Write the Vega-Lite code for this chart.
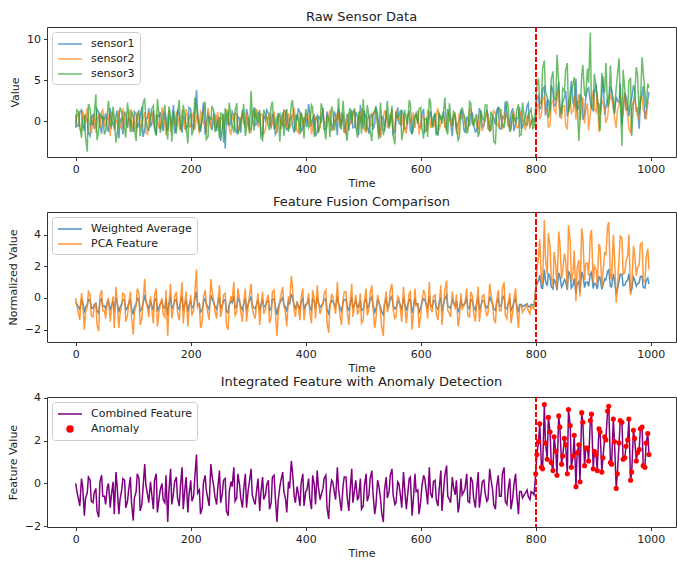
{
"$schema": "https://vega.github.io/schema/vega-lite/v6.json",
"background": "white",
"padding": {"left": 6, "top": 10, "right": 0, "bottom": 0},
"datasets": {"ts": [
{"t":0,"s1":0.8,"s2":-0.3,"s3":-0.8,"wa":-0.23,"pca":0,"cf":0,"an":0},
{"t":5,"s1":-0.5,"s2":1.0,"s3":1.2,"wa":-0.58,"pca":-1.0,"cf":-0.75,"an":0},
{"t":10,"s1":1.4,"s2":-1.1,"s3":-2.0,"wa":-0.12,"pca":0.3,"cf":0.23,"an":0},
{"t":15,"s1":-1.2,"s2":0.5,"s3":0.6,"wa":-0.93,"pca":-2.0,"cf":-1.5,"an":0},
{"t":20,"s1":0.3,"s2":1.6,"s3":-3.7,"wa":-0.44,"pca":-0.6,"cf":-0.45,"an":0},
{"t":25,"s1":-1.8,"s2":-0.7,"s3":1.5,"wa":-0.16,"pca":0.2,"cf":0.15,"an":0},
{"t":30,"s1":0.9,"s2":0.2,"s3":-0.3,"wa":-0.65,"pca":-1.2,"cf":-0.9,"an":0},
{"t":35,"s1":-0.2,"s2":-1.4,"s3":3.3,"wa":-0.34,"pca":-0.3,"cf":-0.23,"an":0},
{"t":40,"s1":1.1,"s2":0.8,"s3":-1.1,"wa":-0.97,"pca":-2.1,"cf":-1.58,"an":0},
{"t":45,"s1":-1.5,"s2":1.2,"s3":0.4,"wa":-0.06,"pca":0.5,"cf":0.38,"an":0},
{"t":50,"s1":0.2,"s2":-0.5,"s3":-1.6,"wa":-0.51,"pca":-0.8,"cf":-0.6,"an":0},
{"t":55,"s1":-0.9,"s2":0.3,"s3":0.9,"wa":-0.3,"pca":-0.2,"cf":-0.15,"an":0},
{"t":60,"s1":1.6,"s2":-1.8,"s3":-0.4,"wa":-0.76,"pca":-1.5,"cf":-1.13,"an":0},
{"t":65,"s1":-0.4,"s2":0.9,"s3":1.8,"wa":-0.2,"pca":0.1,"cf":0.08,"an":0},
{"t":70,"s1":0.7,"s2":-0.2,"s3":-2.6,"wa":0.02,"pca":0.7,"cf":0.53,"an":0},
{"t":75,"s1":-2.1,"s2":1.3,"s3":0.2,"wa":-0.9,"pca":-1.9,"cf":-1.43,"an":0},
{"t":80,"s1":0.5,"s2":-0.9,"s3":1.1,"wa":-0.37,"pca":-0.4,"cf":-0.3,"an":0},
{"t":85,"s1":1.2,"s2":0.4,"s3":-0.9,"wa":-0.16,"pca":0.2,"cf":0.15,"an":0},
{"t":90,"s1":-0.8,"s2":-0.6,"s3":2.3,"wa":-0.62,"pca":-1.1,"cf":-0.83,"an":0},
{"t":95,"s1":0.1,"s2":1.5,"s3":-1.3,"wa":-0.09,"pca":0.4,"cf":0.3,"an":0},
{"t":100,"s1":-1.3,"s2":0.1,"s3":0.5,"wa":-1.04,"pca":-2.3,"cf":-1.73,"an":0},
{"t":105,"s1":0.9,"s2":-1.2,"s3":-2.4,"wa":-0.41,"pca":-0.5,"cf":-0.38,"an":0},
{"t":110,"s1":-0.3,"s2":0.7,"s3":1.4,"wa":-0.12,"pca":0.3,"cf":0.23,"an":0},
{"t":115,"s1":1.8,"s2":-0.4,"s3":-0.6,"wa":-0.69,"pca":-1.3,"cf":-0.98,"an":0},
{"t":120,"s1":-1.0,"s2":1.1,"s3":2.8,"wa":0.19,"pca":1.2,"cf":0.9,"an":0},
{"t":125,"s1":0.4,"s2":-1.6,"s3":-1.0,"wa":-0.48,"pca":-0.7,"cf":-0.53,"an":0},
{"t":130,"s1":-0.6,"s2":0.6,"s3":0.3,"wa":-0.2,"pca":0.1,"cf":0.08,"an":0},
{"t":135,"s1":1.3,"s2":-0.1,"s3":1.9,"wa":-0.79,"pca":-1.6,"cf":-1.2,"an":0},
{"t":140,"s1":-1.7,"s2":0.9,"s3":-1.7,"wa":-0.02,"pca":0.6,"cf":0.45,"an":0},
{"t":145,"s1":0.6,"s2":-0.8,"s3":0.7,"wa":-0.55,"pca":-0.9,"cf":-0.68,"an":0},
{"t":150,"s1":-0.2,"s2":1.7,"s3":-0.2,"wa":-0.23,"pca":0,"cf":0,"an":0},
{"t":155,"s1":1.0,"s2":-0.3,"s3":2.0,"wa":-0.65,"pca":-1.2,"cf":-0.9,"an":0},
{"t":160,"s1":-1.1,"s2":0.5,"s3":-2.2,"wa":-1.07,"pca":-2.4,"cf":-1.8,"an":0},
{"t":165,"s1":0.3,"s2":-1.3,"s3":0.8,"wa":0.09,"pca":0.9,"cf":0.68,"an":0},
{"t":170,"s1":2.0,"s2":0.2,"s3":1.3,"wa":-0.44,"pca":-0.6,"cf":-0.45,"an":0},
{"t":175,"s1":-0.7,"s2":1.0,"s3":-1.5,"wa":-0.09,"pca":0.4,"cf":0.3,"an":0},
{"t":180,"s1":0.8,"s2":-0.6,"s3":2.6,"wa":-0.72,"pca":-1.4,"cf":-1.05,"an":0},
{"t":185,"s1":-1.4,"s2":1.4,"s3":-0.4,"wa":0.12,"pca":1.0,"cf":0.75,"an":0},
{"t":190,"s1":0.2,"s2":-1.0,"s3":0.6,"wa":-0.34,"pca":-0.3,"cf":-0.23,"an":0},
{"t":195,"s1":-0.5,"s2":0.3,"s3":-2.7,"wa":-0.86,"pca":-1.8,"cf":-1.35,"an":0},
{"t":200,"s1":1.5,"s2":-0.7,"s3":1.0,"wa":-0.16,"pca":0.2,"cf":0.15,"an":0},
{"t":205,"s1":-0.9,"s2":1.2,"s3":-0.8,"wa":-0.51,"pca":-0.8,"cf":-0.6,"an":0},
{"t":210,"s1":3.8,"s2":0.4,"s3":1.7,"wa":0.4,"pca":1.8,"cf":1.35,"an":0},
{"t":215,"s1":-0.3,"s2":-1.5,"s3":-1.2,"wa":-0.37,"pca":-0.4,"cf":-0.3,"an":0},
{"t":220,"s1":0.6,"s2":0.8,"s3":0.4,"wa":-0.76,"pca":-1.5,"cf":-1.13,"an":0},
{"t":225,"s1":-1.6,"s2":-0.2,"s3":2.4,"wa":-0.06,"pca":0.5,"cf":0.38,"an":0},
{"t":230,"s1":1.1,"s2":1.6,"s3":-1.9,"wa":-0.58,"pca":-1.0,"cf":-0.75,"an":0},
{"t":235,"s1":-0.4,"s2":-0.9,"s3":0.1,"wa":0.19,"pca":1.2,"cf":0.9,"an":0},
{"t":240,"s1":0.9,"s2":0.1,"s3":1.2,"wa":-0.3,"pca":-0.2,"cf":-0.15,"an":0},
{"t":245,"s1":-1.2,"s2":0.7,"s3":-0.7,"wa":-0.69,"pca":-1.3,"cf":-0.98,"an":0},
{"t":250,"s1":0.4,"s2":-1.1,"s3":-2.1,"wa":0.05,"pca":0.8,"cf":0.6,"an":0},
{"t":255,"s1":-0.8,"s2":0.5,"s3":0.9,"wa":-0.44,"pca":-0.6,"cf":-0.45,"an":0},
{"t":260,"s1":-3.3,"s2":-0.4,"s3":1.6,"wa":-0.12,"pca":0.3,"cf":0.23,"an":0},
{"t":265,"s1":1.2,"s2":1.3,"s3":-0.5,"wa":-0.93,"pca":-2.0,"cf":-1.5,"an":0},
{"t":270,"s1":-0.1,"s2":-1.7,"s3":0.3,"wa":-0.2,"pca":0.1,"cf":0.08,"an":0},
{"t":275,"s1":0.7,"s2":0.2,"s3":-1.4,"wa":0.12,"pca":1.0,"cf":0.75,"an":0},
{"t":280,"s1":-1.5,"s2":0.9,"s3":2.2,"wa":-0.55,"pca":-0.9,"cf":-0.68,"an":0},
{"t":285,"s1":0.3,"s2":-0.5,"s3":-0.9,"wa":-0.27,"pca":-0.1,"cf":-0.08,"an":0},
{"t":290,"s1":1.4,"s2":1.1,"s3":0.7,"wa":-0.76,"pca":-1.5,"cf":-1.13,"an":0},
{"t":295,"s1":-0.6,"s2":-0.8,"s3":-1.8,"wa":-0.02,"pca":0.6,"cf":0.45,"an":0},
{"t":300,"s1":0.5,"s2":0.4,"s3":0.5,"wa":-0.37,"pca":-0.4,"cf":-0.3,"an":0},
{"t":305,"s1":-1.0,"s2":-1.3,"s3":3.7,"wa":0.09,"pca":0.9,"cf":0.68,"an":0},
{"t":310,"s1":1.7,"s2":0.6,"s3":-1.1,"wa":-0.62,"pca":-1.1,"cf":-0.83,"an":0},
{"t":315,"s1":-0.3,"s2":1.5,"s3":0.2,"wa":-0.34,"pca":-0.3,"cf":-0.23,"an":0},
{"t":320,"s1":0.8,"s2":-0.2,"s3":1.4,"wa":-0.83,"pca":-1.7,"cf":-1.28,"an":0},
{"t":325,"s1":-1.9,"s2":0.8,"s3":-2.3,"wa":-0.09,"pca":0.4,"cf":0.3,"an":0},
{"t":330,"s1":0.2,"s2":-1.0,"s3":0.8,"wa":-0.48,"pca":-0.7,"cf":-0.53,"an":0},
{"t":335,"s1":1.0,"s2":0.3,"s3":-0.6,"wa":-0.16,"pca":0.2,"cf":0.15,"an":0},
{"t":340,"s1":-0.7,"s2":-0.6,"s3":1.9,"wa":-0.65,"pca":-1.2,"cf":-0.9,"an":0},
{"t":345,"s1":0.4,"s2":1.2,"s3":-1.0,"wa":-0.06,"pca":0.5,"cf":0.38,"an":0},
{"t":350,"s1":-1.2,"s2":-1.4,"s3":0.4,"wa":-1.07,"pca":-2.4,"cf":-1.8,"an":0},
{"t":355,"s1":0.9,"s2":0.5,"s3":-2.5,"wa":-0.3,"pca":-0.2,"cf":-0.15,"an":0},
{"t":360,"s1":-0.5,"s2":0.1,"s3":1.1,"wa":0.02,"pca":0.7,"cf":0.53,"an":0},
{"t":365,"s1":1.3,"s2":-0.9,"s3":0.6,"wa":-0.58,"pca":-1.0,"cf":-0.75,"an":0},
{"t":370,"s1":-0.9,"s2":1.0,"s3":-1.3,"wa":-0.2,"pca":0.1,"cf":0.08,"an":0},
{"t":375,"s1":0.6,"s2":-0.3,"s3":2.1,"wa":0.26,"pca":1.4,"cf":1.05,"an":0},
{"t":380,"s1":-1.4,"s2":1.7,"s3":-0.3,"wa":-0.51,"pca":-0.8,"cf":-0.6,"an":0},
{"t":385,"s1":0.1,"s2":-1.2,"s3":0.9,"wa":-0.3,"pca":-0.2,"cf":-0.15,"an":0},
{"t":390,"s1":1.1,"s2":0.4,"s3":-1.6,"wa":-0.72,"pca":-1.4,"cf":-1.05,"an":0},
{"t":395,"s1":-0.8,"s2":-0.5,"s3":0.2,"wa":-0.02,"pca":0.6,"cf":0.45,"an":0},
{"t":400,"s1":0.3,"s2":0.9,"s3":1.5,"wa":-0.41,"pca":-0.5,"cf":-0.38,"an":0},
{"t":405,"s1":2.1,"s2":-0.1,"s3":-0.8,"wa":-0.12,"pca":0.3,"cf":0.23,"an":0},
{"t":410,"s1":-0.6,"s2":-1.6,"s3":2.0,"wa":-0.79,"pca":-1.6,"cf":-1.2,"an":0},
{"t":415,"s1":0.7,"s2":0.7,"s3":-1.9,"wa":-0.27,"pca":-0.1,"cf":-0.08,"an":0},
{"t":420,"s1":-1.3,"s2":0.2,"s3":0.7,"wa":0.05,"pca":0.8,"cf":0.6,"an":0},
{"t":425,"s1":0.4,"s2":-0.8,"s3":-0.4,"wa":-0.58,"pca":-1.0,"cf":-0.75,"an":0},
{"t":430,"s1":1.6,"s2":1.3,"s3":1.2,"wa":-0.34,"pca":-0.3,"cf":-0.23,"an":0},
{"t":435,"s1":-1.0,"s2":-0.4,"s3":-2.2,"wa":-0.06,"pca":0.5,"cf":0.38,"an":0},
{"t":440,"s1":0.2,"s2":0.6,"s3":0.5,"wa":-1.0,"pca":-2.2,"cf":-1.65,"an":0},
{"t":445,"s1":-0.4,"s2":-1.1,"s3":1.8,"wa":-0.16,"pca":0.2,"cf":0.15,"an":0},
{"t":450,"s1":1.2,"s2":0.3,"s3":-1.1,"wa":-0.44,"pca":-0.6,"cf":-0.45,"an":0},
{"t":455,"s1":-1.7,"s2":1.1,"s3":0.3,"wa":0.12,"pca":1.0,"cf":0.75,"an":0},
{"t":460,"s1":0.5,"s2":-0.7,"s3":-0.7,"wa":-0.65,"pca":-1.2,"cf":-0.9,"an":0},
{"t":465,"s1":0.9,"s2":0.5,"s3":2.5,"wa":-0.27,"pca":-0.1,"cf":-0.08,"an":0},
{"t":470,"s1":-0.2,"s2":-1.5,"s3":-1.4,"wa":-0.09,"pca":0.4,"cf":0.3,"an":0},
{"t":475,"s1":-1.1,"s2":0.9,"s3":0.9,"wa":-0.83,"pca":-1.7,"cf":-1.28,"an":0},
{"t":480,"s1":1.4,"s2":-0.2,"s3":-0.2,"wa":0.09,"pca":0.9,"cf":0.68,"an":0},
{"t":485,"s1":-0.7,"s2":1.4,"s3":1.6,"wa":-0.37,"pca":-0.4,"cf":-0.3,"an":0},
{"t":490,"s1":0.6,"s2":-0.9,"s3":-2.0,"wa":-0.58,"pca":-1.0,"cf":-0.75,"an":0},
{"t":495,"s1":2.0,"s2":0.1,"s3":0.4,"wa":-0.12,"pca":0.3,"cf":0.23,"an":0},
{"t":500,"s1":-0.9,"s2":0.6,"s3":2.7,"wa":-0.72,"pca":-1.4,"cf":-1.05,"an":0},
{"t":505,"s1":0.3,"s2":-1.3,"s3":-1.2,"wa":-0.02,"pca":0.6,"cf":0.45,"an":0},
{"t":510,"s1":-1.5,"s2":0.8,"s3":0.6,"wa":-0.48,"pca":-0.7,"cf":-0.53,"an":0},
{"t":515,"s1":1.0,"s2":-0.5,"s3":-2.4,"wa":0.05,"pca":0.8,"cf":0.6,"an":0},
{"t":520,"s1":-0.3,"s2":1.2,"s3":1.3,"wa":-0.9,"pca":-1.9,"cf":-1.43,"an":0},
{"t":525,"s1":0.8,"s2":-0.1,"s3":-0.5,"wa":-0.16,"pca":0.2,"cf":0.15,"an":0},
{"t":530,"s1":-2.0,"s2":-1.8,"s3":2.3,"wa":-0.55,"pca":-0.9,"cf":-0.68,"an":0},
{"t":535,"s1":0.4,"s2":0.4,"s3":-1.7,"wa":-1.07,"pca":-2.4,"cf":-1.8,"an":0},
{"t":540,"s1":1.3,"s2":0.9,"s3":0.8,"wa":-0.09,"pca":0.4,"cf":0.3,"an":0},
{"t":545,"s1":-0.6,"s2":-0.6,"s3":-0.9,"wa":-0.41,"pca":-0.5,"cf":-0.38,"an":0},
{"t":550,"s1":0.1,"s2":1.5,"s3":1.9,"wa":0.09,"pca":0.9,"cf":0.68,"an":0},
{"t":555,"s1":-1.2,"s2":-1.0,"s3":-2.8,"wa":-0.69,"pca":-1.3,"cf":-0.98,"an":0},
{"t":560,"s1":1.7,"s2":0.2,"s3":0.5,"wa":-0.2,"pca":0.1,"cf":0.08,"an":0},
{"t":565,"s1":-0.4,"s2":-0.3,"s3":1.4,"wa":-0.51,"pca":-0.8,"cf":-0.6,"an":0},
{"t":570,"s1":0.7,"s2":1.0,"s3":-1.0,"wa":0.02,"pca":0.7,"cf":0.53,"an":0},
{"t":575,"s1":-0.9,"s2":-1.4,"s3":0.2,"wa":-0.79,"pca":-1.6,"cf":-1.2,"an":0},
{"t":580,"s1":1.1,"s2":0.7,"s3":2.6,"wa":-0.12,"pca":0.3,"cf":0.23,"an":0},
{"t":585,"s1":-1.6,"s2":0.3,"s3":-1.5,"wa":-0.93,"pca":-2.0,"cf":-1.5,"an":0},
{"t":590,"s1":0.5,"s2":-0.8,"s3":0.7,"wa":-0.02,"pca":0.6,"cf":0.45,"an":0},
{"t":595,"s1":0.2,"s2":1.3,"s3":-0.3,"wa":-0.37,"pca":-0.4,"cf":-0.3,"an":0},
{"t":600,"s1":-0.8,"s2":-0.4,"s3":1.7,"wa":-0.62,"pca":-1.1,"cf":-0.83,"an":0},
{"t":605,"s1":1.5,"s2":0.6,"s3":-2.1,"wa":-0.06,"pca":0.5,"cf":0.38,"an":0},
{"t":610,"s1":-1.1,"s2":-1.2,"s3":0.4,"wa":-0.44,"pca":-0.6,"cf":-0.45,"an":0},
{"t":615,"s1":0.6,"s2":0.9,"s3":2.8,"wa":0.12,"pca":1.0,"cf":0.75,"an":0},
{"t":620,"s1":-0.3,"s2":0.1,"s3":-0.8,"wa":-0.55,"pca":-0.9,"cf":-0.68,"an":0},
{"t":625,"s1":0.9,"s2":-0.7,"s3":1.0,"wa":-0.16,"pca":0.2,"cf":0.15,"an":0},
{"t":630,"s1":-1.4,"s2":1.6,"s3":-1.8,"wa":-0.72,"pca":-1.4,"cf":-1.05,"an":0},
{"t":635,"s1":0.3,"s2":-0.2,"s3":0.6,"wa":0.05,"pca":0.8,"cf":0.6,"an":0},
{"t":640,"s1":1.2,"s2":0.5,"s3":1.5,"wa":-0.34,"pca":-0.3,"cf":-0.23,"an":0},
{"t":645,"s1":-0.7,"s2":-1.1,"s3":-1.2,"wa":0.16,"pca":1.1,"cf":0.83,"an":0},
{"t":650,"s1":0.4,"s2":0.8,"s3":2.2,"wa":-0.58,"pca":-1.0,"cf":-0.75,"an":0},
{"t":655,"s1":-1.8,"s2":-0.5,"s3":-0.6,"wa":-0.09,"pca":0.4,"cf":0.3,"an":0},
{"t":660,"s1":0.8,"s2":1.1,"s3":0.3,"wa":-0.48,"pca":-0.7,"cf":-0.53,"an":0},
{"t":665,"s1":-0.2,"s2":-1.5,"s3":-2.3,"wa":-0.86,"pca":-1.8,"cf":-1.35,"an":0},
{"t":670,"s1":1.3,"s2":0.3,"s3":1.1,"wa":-0.12,"pca":0.3,"cf":0.23,"an":0},
{"t":675,"s1":-1.0,"s2":0.7,"s3":0.8,"wa":-0.41,"pca":-0.5,"cf":-0.38,"an":0},
{"t":680,"s1":0.5,"s2":-0.9,"s3":-1.4,"wa":-0.02,"pca":0.6,"cf":0.45,"an":0},
{"t":685,"s1":-0.6,"s2":1.4,"s3":2.4,"wa":-0.65,"pca":-1.2,"cf":-0.9,"an":0},
{"t":690,"s1":1.0,"s2":-0.3,"s3":-0.4,"wa":-0.2,"pca":0.1,"cf":0.08,"an":0},
{"t":695,"s1":-1.3,"s2":0.2,"s3":0.5,"wa":-0.76,"pca":-1.5,"cf":-1.13,"an":0},
{"t":700,"s1":0.2,"s2":-1.0,"s3":-1.9,"wa":0.02,"pca":0.7,"cf":0.53,"an":0},
{"t":705,"s1":0.9,"s2":0.6,"s3":1.3,"wa":-0.44,"pca":-0.6,"cf":-0.45,"an":0},
{"t":710,"s1":-0.5,"s2":-0.4,"s3":0.1,"wa":-0.16,"pca":0.2,"cf":0.15,"an":0},
{"t":715,"s1":1.4,"s2":1.2,"s3":2.0,"wa":-0.62,"pca":-1.1,"cf":-0.83,"an":0},
{"t":720,"s1":-1.1,"s2":-1.3,"s3":-1.1,"wa":0.09,"pca":0.9,"cf":0.68,"an":0},
{"t":725,"s1":0.6,"s2":0.4,"s3":0.7,"wa":-0.37,"pca":-0.4,"cf":-0.3,"an":0},
{"t":730,"s1":-0.4,"s2":0.9,"s3":-2.7,"wa":-0.79,"pca":-1.6,"cf":-1.2,"an":0},
{"t":735,"s1":1.8,"s2":-0.6,"s3":1.6,"wa":-0.06,"pca":0.5,"cf":0.38,"an":0},
{"t":740,"s1":-0.9,"s2":1.5,"s3":0.4,"wa":-0.51,"pca":-0.8,"cf":-0.6,"an":0},
{"t":745,"s1":0.3,"s2":-0.2,"s3":-0.7,"wa":0.12,"pca":1.0,"cf":0.75,"an":0},
{"t":750,"s1":1.1,"s2":0.5,"s3":2.5,"wa":-0.69,"pca":-1.3,"cf":-0.98,"an":0},
{"t":755,"s1":-0.7,"s2":-1.1,"s3":-1.3,"wa":-0.12,"pca":0.3,"cf":0.23,"an":0},
{"t":760,"s1":1.6,"s2":0.8,"s3":0.9,"wa":-0.55,"pca":-0.9,"cf":-0.68,"an":0},
{"t":765,"s1":-0.3,"s2":0.1,"s3":-0.2,"wa":-0.02,"pca":0.6,"cf":0.45,"an":0},
{"t":770,"s1":0.5,"s2":-0.7,"s3":2.1,"wa":-0.9,"pca":-1.9,"cf":-1.43,"an":0},
{"t":775,"s1":-0.8,"s2":1.3,"s3":-1.6,"wa":-0.41,"pca":-0.5,"cf":-0.38,"an":0},
{"t":780,"s1":0.2,"s2":-0.4,"s3":0.6,"wa":-0.48,"pca":-0.7,"cf":-0.53,"an":0},
{"t":785,"s1":1.9,"s2":0.6,"s3":-0.5,"wa":-0.37,"pca":-0.4,"cf":-0.3,"an":0},
{"t":790,"s1":-0.6,"s2":-0.9,"s3":1.2,"wa":-0.58,"pca":-1.0,"cf":-0.75,"an":0},
{"t":795,"s1":0.4,"s2":0.2,"s3":-0.9,"wa":-0.44,"pca":-0.6,"cf":-0.45,"an":0},
{"t":800,"s1":0.4,"s2":-0.2,"s3":1.8,"wa":0.51,"pca":0.6,"cf":0.45,"an":1},
{"t":805,"s1":3.1,"s2":2.1,"s3":5.2,"wa":1.11,"pca":2.6,"cf":1.95,"an":1},
{"t":810,"s1":1.8,"s2":0.8,"s3":2.4,"wa":0.63,"pca":1.0,"cf":0.75,"an":1},
{"t":815,"s1":4.2,"s2":3.0,"s3":7.4,"wa":1.8,"pca":4.9,"cf":3.68,"an":1},
{"t":820,"s1":2.5,"s2":1.4,"s3":3.0,"wa":0.78,"pca":1.5,"cf":1.13,"an":1},
{"t":825,"s1":1.2,"s2":-0.5,"s3":1.2,"wa":1.29,"pca":3.2,"cf":2.4,"an":1},
{"t":830,"s1":3.6,"s2":2.5,"s3":6.1,"wa":0.57,"pca":0.8,"cf":0.6,"an":1},
{"t":835,"s1":2.0,"s2":1.0,"s3":2.6,"wa":0.93,"pca":2.0,"cf":1.5,"an":1},
{"t":840,"s1":4.8,"s2":3.6,"s3":4.8,"wa":1.59,"pca":4.2,"cf":3.15,"an":1},
{"t":845,"s1":1.5,"s2":0.4,"s3":0.9,"wa":0.69,"pca":1.2,"cf":0.9,"an":1},
{"t":850,"s1":2.9,"s2":1.9,"s3":3.7,"wa":1.17,"pca":2.8,"cf":2.1,"an":1},
{"t":855,"s1":0.6,"s2":-1.0,"s3":7.1,"wa":0.51,"pca":0.6,"cf":0.45,"an":1},
{"t":860,"s1":3.4,"s2":2.8,"s3":2.1,"wa":1.41,"pca":3.6,"cf":2.7,"an":1},
{"t":865,"s1":2.2,"s2":1.3,"s3":4.5,"wa":0.84,"pca":1.7,"cf":1.28,"an":1},
{"t":870,"s1":5.2,"s2":0.2,"s3":1.5,"wa":0.27,"pca":-0.2,"cf":-0.15,"an":1},
{"t":875,"s1":1.7,"s2":3.3,"s3":-2.4,"wa":1.05,"pca":2.4,"cf":1.8,"an":1},
{"t":880,"s1":2.8,"s2":1.6,"s3":5.6,"wa":1.65,"pca":4.4,"cf":3.3,"an":1},
{"t":885,"s1":0.9,"s2":-0.3,"s3":3.2,"wa":0.66,"pca":1.1,"cf":0.83,"an":1},
{"t":890,"s1":3.9,"s2":2.2,"s3":6.4,"wa":0.99,"pca":2.2,"cf":1.65,"an":1},
{"t":895,"s1":2.4,"s2":0.9,"s3":10.8,"wa":1.5,"pca":3.9,"cf":2.93,"an":1},
{"t":900,"s1":1.3,"s2":3.8,"s3":2.0,"wa":0.6,"pca":0.9,"cf":0.68,"an":1},
{"t":905,"s1":4.5,"s2":1.1,"s3":4.2,"wa":0.87,"pca":1.8,"cf":1.35,"an":1},
{"t":910,"s1":2.1,"s2":-1.3,"s3":0.6,"wa":1.35,"pca":3.4,"cf":2.55,"an":1},
{"t":915,"s1":3.2,"s2":2.6,"s3":5.9,"wa":0.54,"pca":0.7,"cf":0.53,"an":1},
{"t":920,"s1":0.8,"s2":1.5,"s3":3.5,"wa":1.2,"pca":2.9,"cf":2.18,"an":1},
{"t":925,"s1":2.7,"s2":0.5,"s3":1.7,"wa":1.68,"pca":4.5,"cf":3.38,"an":1},
{"t":930,"s1":4.1,"s2":3.1,"s3":6.8,"wa":0.72,"pca":1.3,"cf":0.98,"an":1},
{"t":935,"s1":1.6,"s2":1.8,"s3":2.8,"wa":1.53,"pca":4.0,"cf":3.0,"an":1},
{"t":940,"s1":3.0,"s2":-0.8,"s3":4.1,"wa":0.24,"pca":-0.3,"cf":-0.23,"an":1},
{"t":945,"s1":2.3,"s2":2.0,"s3":7.7,"wa":1.08,"pca":2.5,"cf":1.88,"an":1},
{"t":950,"s1":-0.4,"s2":1.2,"s3":-3.0,"wa":1.47,"pca":3.8,"cf":2.85,"an":1},
{"t":955,"s1":3.5,"s2":3.4,"s3":3.9,"wa":0.81,"pca":1.6,"cf":1.2,"an":1},
{"t":960,"s1":1.9,"s2":0.7,"s3":1.4,"wa":1.14,"pca":2.7,"cf":2.03,"an":1},
{"t":965,"s1":2.6,"s2":-1.5,"s3":5.3,"wa":0.39,"pca":0.2,"cf":0.15,"an":1},
{"t":970,"s1":4.4,"s2":2.4,"s3":2.3,"wa":1.32,"pca":3.3,"cf":2.48,"an":1},
{"t":975,"s1":1.1,"s2":1.7,"s3":6.6,"wa":0.75,"pca":1.4,"cf":1.05,"an":1},
{"t":980,"s1":-0.9,"s2":0.3,"s3":0.8,"wa":0.96,"pca":2.1,"cf":1.58,"an":1},
{"t":985,"s1":3.3,"s2":2.9,"s3":7.8,"wa":1.38,"pca":3.5,"cf":2.63,"an":1},
{"t":990,"s1":0.3,"s2":1.0,"s3":3.4,"wa":0.63,"pca":1.0,"cf":0.75,"an":1},
{"t":995,"s1":2.6,"s2":2.2,"s3":4.6,"wa":1.26,"pca":3.1,"cf":2.33,"an":1},
{"t":2,"s1":-0.6,"s2":0.7,"s3":1.4,"wa":-0.41,"pca":-0.5,"cf":-0.38,"an":0},
{"t":7,"s1":1.1,"s2":-0.9,"s3":-0.6,"wa":-0.72,"pca":-1.4,"cf":-1.05,"an":0},
{"t":12,"s1":-0.2,"s2":1.3,"s3":0.3,"wa":-0.3,"pca":-0.2,"cf":-0.15,"an":0},
{"t":17,"s1":0.7,"s2":-0.2,"s3":-1.9,"wa":-0.55,"pca":-0.9,"cf":-0.68,"an":0},
{"t":22,"s1":-1.4,"s2":0.5,"s3":2.1,"wa":-0.09,"pca":0.4,"cf":0.3,"an":0},
{"t":27,"s1":0.4,"s2":-1.5,"s3":-0.4,"wa":-0.62,"pca":-1.1,"cf":-0.83,"an":0},
{"t":32,"s1":-0.9,"s2":0.9,"s3":0.8,"wa":-0.44,"pca":-0.6,"cf":-0.45,"an":0},
{"t":37,"s1":1.5,"s2":0.1,"s3":-2.3,"wa":-0.83,"pca":-1.7,"cf":-1.28,"an":0},
{"t":42,"s1":-0.3,"s2":-0.8,"s3":1.0,"wa":-0.2,"pca":0.1,"cf":0.08,"an":0},
{"t":47,"s1":0.6,"s2":1.4,"s3":0.5,"wa":-0.51,"pca":-0.8,"cf":-0.6,"an":0},
{"t":52,"s1":1.0,"s2":-0.3,"s3":-1.2,"wa":-0.69,"pca":-1.3,"cf":-0.98,"an":0},
{"t":57,"s1":-1.3,"s2":0.6,"s3":2.5,"wa":-0.23,"pca":0,"cf":0,"an":0},
{"t":62,"s1":0.2,"s2":1.1,"s3":-0.7,"wa":-0.48,"pca":-0.7,"cf":-0.53,"an":0},
{"t":67,"s1":-0.7,"s2":-1.1,"s3":0.4,"wa":-0.9,"pca":-1.9,"cf":-1.43,"an":0},
{"t":72,"s1":1.3,"s2":0.2,"s3":-1.5,"wa":-0.3,"pca":-0.2,"cf":-0.15,"an":0},
{"t":77,"s1":-0.1,"s2":-0.6,"s3":1.7,"wa":-0.58,"pca":-1.0,"cf":-0.75,"an":0},
{"t":82,"s1":-1.6,"s2":1.6,"s3":0.2,"wa":-0.12,"pca":0.3,"cf":0.23,"an":0},
{"t":87,"s1":0.8,"s2":-0.4,"s3":-2.0,"wa":-0.76,"pca":-1.5,"cf":-1.13,"an":0},
{"t":92,"s1":0.4,"s2":0.8,"s3":0.9,"wa":-0.37,"pca":-0.4,"cf":-0.3,"an":0},
{"t":97,"s1":-0.5,"s2":-1.3,"s3":1.3,"wa":-0.65,"pca":-1.2,"cf":-0.9,"an":0},
{"t":102,"s1":1.2,"s2":0.4,"s3":-0.9,"wa":-0.55,"pca":-0.9,"cf":-0.68,"an":0},
{"t":107,"s1":-0.8,"s2":1.0,"s3":0.6,"wa":-0.02,"pca":0.6,"cf":0.45,"an":0},
{"t":112,"s1":0.5,"s2":-0.7,"s3":-1.8,"wa":-0.83,"pca":-1.7,"cf":-1.28,"an":0},
{"t":117,"s1":-1.9,"s2":0.3,"s3":2.2,"wa":-0.34,"pca":-0.3,"cf":-0.23,"an":0},
{"t":122,"s1":0.3,"s2":-1.4,"s3":0.1,"wa":-0.27,"pca":-0.1,"cf":-0.08,"an":0},
{"t":127,"s1":1.6,"s2":0.9,"s3":-1.1,"wa":-0.65,"pca":-1.2,"cf":-0.9,"an":0},
{"t":132,"s1":-0.4,"s2":1.2,"s3":1.5,"wa":-0.44,"pca":-0.6,"cf":-0.45,"an":0},
{"t":137,"s1":-0.9,"s2":-0.5,"s3":-0.5,"wa":-0.16,"pca":0.2,"cf":0.15,"an":0},
{"t":142,"s1":0.7,"s2":0.1,"s3":2.7,"wa":-0.86,"pca":-1.8,"cf":-1.35,"an":0},
{"t":147,"s1":1.1,"s2":-0.9,"s3":-1.4,"wa":-0.37,"pca":-0.4,"cf":-0.3,"an":0},
{"t":152,"s1":-1.2,"s2":0.6,"s3":0.7,"wa":-0.58,"pca":-1.0,"cf":-0.75,"an":0},
{"t":157,"s1":0.2,"s2":-1.7,"s3":-0.3,"wa":-0.06,"pca":0.5,"cf":0.38,"an":0},
{"t":162,"s1":0.9,"s2":1.3,"s3":1.8,"wa":-0.41,"pca":-0.5,"cf":-0.38,"an":0},
{"t":167,"s1":-0.6,"s2":0.2,"s3":-2.5,"wa":-0.69,"pca":-1.3,"cf":-0.98,"an":0},
{"t":172,"s1":-1.5,"s2":-0.4,"s3":0.4,"wa":-0.2,"pca":0.1,"cf":0.08,"an":0},
{"t":177,"s1":1.4,"s2":0.8,"s3":1.1,"wa":-0.55,"pca":-0.9,"cf":-0.68,"an":0},
{"t":182,"s1":-0.2,"s2":-1.2,"s3":-1.0,"wa":-0.3,"pca":-0.2,"cf":-0.15,"an":0},
{"t":187,"s1":0.6,"s2":0.5,"s3":2.0,"wa":-0.79,"pca":-1.6,"cf":-1.2,"an":0},
{"t":192,"s1":-1.0,"s2":1.5,"s3":-0.6,"wa":-0.09,"pca":0.4,"cf":0.3,"an":0},
{"t":197,"s1":1.7,"s2":-0.6,"s3":0.3,"wa":-0.48,"pca":-0.7,"cf":-0.53,"an":0},
{"t":202,"s1":-0.4,"s2":0.3,"s3":-1.7,"wa":-0.62,"pca":-1.1,"cf":-0.83,"an":0},
{"t":207,"s1":0.3,"s2":-1.0,"s3":2.9,"wa":-0.12,"pca":0.3,"cf":0.23,"an":0},
{"t":212,"s1":1.0,"s2":0.9,"s3":0.5,"wa":-0.44,"pca":-0.6,"cf":-0.45,"an":0},
{"t":217,"s1":-1.3,"s2":1.2,"s3":-0.8,"wa":-0.9,"pca":-1.9,"cf":-1.43,"an":0},
{"t":222,"s1":2.3,"s2":-0.3,"s3":1.3,"wa":-0.23,"pca":0,"cf":0,"an":0},
{"t":227,"s1":-0.7,"s2":-1.4,"s3":-2.2,"wa":-0.37,"pca":-0.4,"cf":-0.3,"an":0},
{"t":232,"s1":0.1,"s2":0.7,"s3":0.6,"wa":-0.72,"pca":-1.4,"cf":-1.05,"an":0},
{"t":237,"s1":-1.1,"s2":0.4,"s3":1.9,"wa":-0.06,"pca":0.5,"cf":0.38,"an":0},
{"t":242,"s1":0.8,"s2":-0.8,"s3":-1.3,"wa":-0.51,"pca":-0.8,"cf":-0.6,"an":0},
{"t":247,"s1":0.5,"s2":1.1,"s3":0.2,"wa":-0.34,"pca":-0.3,"cf":-0.23,"an":0},
{"t":252,"s1":-2.4,"s2":0.2,"s3":1.0,"wa":-0.65,"pca":-1.2,"cf":-0.9,"an":0},
{"t":257,"s1":0.9,"s2":-0.5,"s3":-2.6,"wa":-0.16,"pca":0.2,"cf":0.15,"an":0},
{"t":262,"s1":0.4,"s2":1.4,"s3":0.8,"wa":-0.83,"pca":-1.7,"cf":-1.28,"an":0},
{"t":267,"s1":-0.6,"s2":-0.9,"s3":2.3,"wa":-0.41,"pca":-0.5,"cf":-0.38,"an":0},
{"t":272,"s1":1.2,"s2":0.6,"s3":-0.4,"wa":-0.3,"pca":-0.2,"cf":-0.15,"an":0},
{"t":277,"s1":-0.9,"s2":1.0,"s3":1.2,"wa":-0.62,"pca":-1.1,"cf":-0.83,"an":0},
{"t":282,"s1":0.6,"s2":-1.3,"s3":-1.6,"wa":-0.02,"pca":0.6,"cf":0.45,"an":0},
{"t":287,"s1":-1.4,"s2":0.3,"s3":0.3,"wa":-0.55,"pca":-0.9,"cf":-0.68,"an":0},
{"t":292,"s1":0.2,"s2":-0.2,"s3":2.1,"wa":-0.37,"pca":-0.4,"cf":-0.3,"an":0},
{"t":297,"s1":1.5,"s2":0.8,"s3":-0.9,"wa":-0.76,"pca":-1.5,"cf":-1.13,"an":0},
{"t":302,"s1":-0.8,"s2":-1.1,"s3":-1.5,"wa":-0.2,"pca":0.1,"cf":0.08,"an":0},
{"t":307,"s1":0.3,"s2":1.3,"s3":0.7,"wa":-0.48,"pca":-0.7,"cf":-0.53,"an":0},
{"t":312,"s1":-0.5,"s2":0.4,"s3":1.6,"wa":-0.69,"pca":-1.3,"cf":-0.98,"an":0},
{"t":317,"s1":1.1,"s2":-0.7,"s3":-0.2,"wa":-0.12,"pca":0.3,"cf":0.23,"an":0},
{"t":322,"s1":-1.2,"s2":0.9,"s3":-2.0,"wa":-0.44,"pca":-0.6,"cf":-0.45,"an":0},
{"t":327,"s1":0.7,"s2":-1.6,"s3":1.4,"wa":-0.58,"pca":-1.0,"cf":-0.75,"an":0},
{"t":332,"s1":1.4,"s2":0.5,"s3":0.5,"wa":-0.27,"pca":-0.1,"cf":-0.08,"an":0},
{"t":337,"s1":-0.3,"s2":1.1,"s3":-1.1,"wa":-0.79,"pca":-1.6,"cf":-1.2,"an":0},
{"t":342,"s1":0.9,"s2":-0.4,"s3":2.4,"wa":-0.09,"pca":0.4,"cf":0.3,"an":0},
{"t":347,"s1":-1.6,"s2":0.2,"s3":-0.7,"wa":-0.51,"pca":-0.8,"cf":-0.6,"an":0},
{"t":352,"s1":0.5,"s2":0.7,"s3":1.0,"wa":-0.62,"pca":-1.1,"cf":-0.83,"an":0},
{"t":357,"s1":-0.1,"s2":-1.0,"s3":0.2,"wa":-0.16,"pca":0.2,"cf":0.15,"an":0},
{"t":362,"s1":1.3,"s2":1.5,"s3":-1.8,"wa":-0.41,"pca":-0.5,"cf":-0.38,"an":0},
{"t":367,"s1":-1.0,"s2":-0.3,"s3":1.5,"wa":-0.86,"pca":-1.8,"cf":-1.35,"an":0},
{"t":372,"s1":0.2,"s2":-0.8,"s3":-0.3,"wa":-0.34,"pca":-0.3,"cf":-0.23,"an":0},
{"t":377,"s1":-0.6,"s2":0.6,"s3":2.6,"wa":0.02,"pca":0.7,"cf":0.53,"an":0},
{"t":382,"s1":0.8,"s2":0.2,"s3":-1.2,"wa":-0.65,"pca":-1.2,"cf":-0.9,"an":0},
{"t":387,"s1":1.6,"s2":-1.4,"s3":0.4,"wa":-0.44,"pca":-0.6,"cf":-0.45,"an":0},
{"t":392,"s1":-1.3,"s2":1.0,"s3":1.1,"wa":-0.23,"pca":0,"cf":0,"an":0},
{"t":397,"s1":0.4,"s2":-0.5,"s3":-2.1,"wa":-0.72,"pca":-1.4,"cf":-1.05,"an":0},
{"t":402,"s1":-0.7,"s2":0.4,"s3":0.8,"wa":-0.37,"pca":-0.4,"cf":-0.3,"an":0},
{"t":407,"s1":1.0,"s2":1.2,"s3":-0.5,"wa":-0.55,"pca":-0.9,"cf":-0.68,"an":0},
{"t":412,"s1":0.3,"s2":-0.9,"s3":1.7,"wa":-0.06,"pca":0.5,"cf":0.38,"an":0},
{"t":417,"s1":-1.8,"s2":0.3,"s3":0.3,"wa":-0.69,"pca":-1.3,"cf":-0.98,"an":0},
{"t":422,"s1":0.6,"s2":-1.2,"s3":-1.4,"wa":-0.3,"pca":-0.2,"cf":-0.15,"an":0},
{"t":427,"s1":-0.2,"s2":0.8,"s3":2.2,"wa":-0.48,"pca":-0.7,"cf":-0.53,"an":0},
{"t":432,"s1":-0.9,"s2":0.1,"s3":-0.8,"wa":-0.12,"pca":0.3,"cf":0.23,"an":0},
{"t":437,"s1":1.2,"s2":-0.6,"s3":0.6,"wa":-0.76,"pca":-1.5,"cf":-1.13,"an":0},
{"t":442,"s1":0.1,"s2":1.4,"s3":-1.9,"wa":-0.44,"pca":-0.6,"cf":-0.45,"an":0},
{"t":447,"s1":-1.1,"s2":-1.0,"s3":1.3,"wa":-0.2,"pca":0.1,"cf":0.08,"an":0},
{"t":452,"s1":0.7,"s2":-0.2,"s3":0.1,"wa":-0.58,"pca":-1.0,"cf":-0.75,"an":0},
{"t":457,"s1":1.5,"s2":0.7,"s3":2.8,"wa":-0.34,"pca":-0.3,"cf":-0.23,"an":0},
{"t":462,"s1":-0.5,"s2":1.1,"s3":-1.0,"wa":-0.83,"pca":-1.7,"cf":-1.28,"an":0},
{"t":467,"s1":-1.4,"s2":-1.3,"s3":0.5,"wa":-0.09,"pca":0.4,"cf":0.3,"an":0},
{"t":472,"s1":0.9,"s2":0.5,"s3":-2.4,"wa":-0.51,"pca":-0.8,"cf":-0.6,"an":0},
{"t":477,"s1":0.2,"s2":-0.4,"s3":1.6,"wa":-0.41,"pca":-0.5,"cf":-0.38,"an":0},
{"t":482,"s1":-0.8,"s2":0.9,"s3":0.9,"wa":-0.65,"pca":-1.2,"cf":-0.9,"an":0},
{"t":487,"s1":1.1,"s2":-0.8,"s3":-0.6,"wa":-0.16,"pca":0.2,"cf":0.15,"an":0},
{"t":492,"s1":-1.7,"s2":0.3,"s3":1.2,"wa":-0.55,"pca":-0.9,"cf":-0.68,"an":0},
{"t":497,"s1":0.4,"s2":1.6,"s3":-1.5,"wa":-0.79,"pca":-1.6,"cf":-1.2,"an":0},
{"t":502,"s1":1.3,"s2":-1.1,"s3":0.3,"wa":-0.3,"pca":-0.2,"cf":-0.15,"an":0},
{"t":507,"s1":-0.6,"s2":0.2,"s3":2.0,"wa":-0.62,"pca":-1.1,"cf":-0.83,"an":0},
{"t":512,"s1":0.5,"s2":-0.5,"s3":-1.3,"wa":-0.12,"pca":0.3,"cf":0.23,"an":0},
{"t":517,"s1":-1.0,"s2":1.0,"s3":0.7,"wa":-0.44,"pca":-0.6,"cf":-0.45,"an":0},
{"t":522,"s1":1.8,"s2":0.6,"s3":1.8,"wa":-0.72,"pca":-1.4,"cf":-1.05,"an":0},
{"t":527,"s1":-0.3,"s2":-1.5,"s3":-2.2,"wa":-0.27,"pca":-0.1,"cf":-0.08,"an":0},
{"t":532,"s1":0.6,"s2":0.4,"s3":0.4,"wa":-0.86,"pca":-1.8,"cf":-1.35,"an":0},
{"t":537,"s1":-1.2,"s2":1.2,"s3":-0.9,"wa":-0.37,"pca":-0.4,"cf":-0.3,"an":0},
{"t":542,"s1":0.2,"s2":-0.7,"s3":2.5,"wa":-0.55,"pca":-0.9,"cf":-0.68,"an":0},
{"t":547,"s1":0.9,"s2":0.1,"s3":-0.2,"wa":-0.06,"pca":0.5,"cf":0.38,"an":0},
{"t":552,"s1":-1.5,"s2":-0.9,"s3":-1.7,"wa":-0.48,"pca":-0.7,"cf":-0.53,"an":0},
{"t":557,"s1":0.4,"s2":1.3,"s3":1.1,"wa":-0.65,"pca":-1.2,"cf":-0.9,"an":0},
{"t":562,"s1":-0.2,"s2":0.5,"s3":0.6,"wa":-0.23,"pca":0,"cf":0,"an":0},
{"t":567,"s1":1.4,"s2":-0.4,"s3":-2.3,"wa":-0.76,"pca":-1.5,"cf":-1.13,"an":0},
{"t":572,"s1":-0.9,"s2":-1.2,"s3":1.4,"wa":-0.34,"pca":-0.3,"cf":-0.23,"an":0},
{"t":577,"s1":0.7,"s2":0.8,"s3":-0.4,"wa":-0.51,"pca":-0.8,"cf":-0.6,"an":0},
{"t":582,"s1":-1.1,"s2":-0.1,"s3":2.1,"wa":-0.09,"pca":0.4,"cf":0.3,"an":0},
{"t":587,"s1":0.3,"s2":1.1,"s3":-1.1,"wa":-0.62,"pca":-1.1,"cf":-0.83,"an":0},
{"t":592,"s1":1.0,"s2":0.3,"s3":0.8,"wa":-0.41,"pca":-0.5,"cf":-0.38,"an":0},
{"t":597,"s1":-0.6,"s2":-1.6,"s3":1.5,"wa":-0.9,"pca":-1.9,"cf":-1.43,"an":0},
{"t":602,"s1":0.8,"s2":0.6,"s3":-0.7,"wa":-0.3,"pca":-0.2,"cf":-0.15,"an":0},
{"t":607,"s1":-1.3,"s2":-0.3,"s3":0.2,"wa":-0.12,"pca":0.3,"cf":0.23,"an":0},
{"t":612,"s1":0.1,"s2":1.4,"s3":-1.9,"wa":-0.69,"pca":-1.3,"cf":-0.98,"an":0},
{"t":617,"s1":1.2,"s2":-0.8,"s3":2.4,"wa":-0.44,"pca":-0.6,"cf":-0.45,"an":0},
{"t":622,"s1":-0.5,"s2":0.2,"s3":0.5,"wa":-0.2,"pca":0.1,"cf":0.08,"an":0},
{"t":627,"s1":-1.6,"s2":0.9,"s3":-1.2,"wa":-0.58,"pca":-1.0,"cf":-0.75,"an":0},
{"t":632,"s1":0.9,"s2":-1.1,"s3":1.0,"wa":-0.37,"pca":-0.4,"cf":-0.3,"an":0},
{"t":637,"s1":0.4,"s2":0.5,"s3":-0.3,"wa":-0.83,"pca":-1.7,"cf":-1.28,"an":0},
{"t":642,"s1":-0.7,"s2":-0.6,"s3":2.9,"wa":-0.06,"pca":0.5,"cf":0.38,"an":0},
{"t":647,"s1":1.5,"s2":1.2,"s3":-1.6,"wa":-0.51,"pca":-0.8,"cf":-0.6,"an":0},
{"t":652,"s1":-0.2,"s2":-0.2,"s3":0.6,"wa":-0.65,"pca":-1.2,"cf":-0.9,"an":0},
{"t":657,"s1":0.6,"s2":0.4,"s3":1.3,"wa":-0.3,"pca":-0.2,"cf":-0.15,"an":0},
{"t":662,"s1":-1.0,"s2":-1.3,"s3":-0.8,"wa":-0.16,"pca":0.2,"cf":0.15,"an":0},
{"t":667,"s1":0.3,"s2":1.0,"s3":-2.0,"wa":-0.72,"pca":-1.4,"cf":-1.05,"an":0},
{"t":672,"s1":1.1,"s2":0.7,"s3":1.7,"wa":-0.48,"pca":-0.7,"cf":-0.53,"an":0},
{"t":677,"s1":-1.4,"s2":-0.5,"s3":0.3,"wa":-0.34,"pca":-0.3,"cf":-0.23,"an":0},
{"t":682,"s1":0.5,"s2":-0.9,"s3":-1.3,"wa":-0.62,"pca":-1.1,"cf":-0.83,"an":0},
{"t":687,"s1":0.9,"s2":1.5,"s3":2.2,"wa":-0.09,"pca":0.4,"cf":0.3,"an":0},
{"t":692,"s1":-0.4,"s2":0.1,"s3":-0.5,"wa":-0.55,"pca":-0.9,"cf":-0.68,"an":0},
{"t":697,"s1":-1.2,"s2":-0.4,"s3":0.9,"wa":-0.41,"pca":-0.5,"cf":-0.38,"an":0},
{"t":702,"s1":1.6,"s2":0.8,"s3":-1.4,"wa":-0.76,"pca":-1.5,"cf":-1.13,"an":0},
{"t":707,"s1":-0.7,"s2":-1.2,"s3":0.4,"wa":-0.2,"pca":0.1,"cf":0.08,"an":0},
{"t":712,"s1":0.2,"s2":0.3,"s3":2.0,"wa":-0.44,"pca":-0.6,"cf":-0.45,"an":0},
{"t":717,"s1":0.8,"s2":0.6,"s3":-0.9,"wa":-0.58,"pca":-1.0,"cf":-0.75,"an":0},
{"t":722,"s1":-1.1,"s2":-0.7,"s3":1.2,"wa":-0.12,"pca":0.3,"cf":0.23,"an":0},
{"t":727,"s1":0.4,"s2":1.3,"s3":-2.5,"wa":-0.69,"pca":-1.3,"cf":-0.98,"an":0},
{"t":732,"s1":1.3,"s2":-0.3,"s3":0.7,"wa":-0.3,"pca":-0.2,"cf":-0.15,"an":0},
{"t":737,"s1":-0.9,"s2":0.2,"s3":1.6,"wa":-0.51,"pca":-0.8,"cf":-0.6,"an":0},
{"t":742,"s1":0.6,"s2":-1.0,"s3":-0.6,"wa":-0.02,"pca":0.6,"cf":0.45,"an":0},
{"t":747,"s1":2.4,"s2":0.9,"s3":0.2,"wa":-0.62,"pca":-1.1,"cf":-0.83,"an":0},
{"t":752,"s1":-0.5,"s2":0.4,"s3":1.9,"wa":-0.37,"pca":-0.4,"cf":-0.3,"an":0},
{"t":757,"s1":0.9,"s2":-0.6,"s3":-1.0,"wa":-0.79,"pca":-1.6,"cf":-1.2,"an":0},
{"t":762,"s1":-1.2,"s2":1.1,"s3":0.5,"wa":-0.27,"pca":-0.1,"cf":-0.08,"an":0},
{"t":767,"s1":0.3,"s2":-0.8,"s3":1.3,"wa":-0.48,"pca":-0.7,"cf":-0.53,"an":0},
{"t":772,"s1":1.7,"s2":0.5,"s3":-1.8,"wa":-0.41,"pca":-0.5,"cf":-0.38,"an":0},
{"t":777,"s1":-0.8,"s2":0.2,"s3":2.3,"wa":-0.55,"pca":-0.9,"cf":-0.68,"an":0},
{"t":782,"s1":0.5,"s2":-1.1,"s3":-0.4,"wa":-0.44,"pca":-0.6,"cf":-0.45,"an":0},
{"t":787,"s1":2.2,"s2":0.7,"s3":0.8,"wa":-0.51,"pca":-0.8,"cf":-0.6,"an":0},
{"t":792,"s1":-0.3,"s2":0.1,"s3":1.5,"wa":-0.41,"pca":-0.5,"cf":-0.38,"an":0},
{"t":797,"s1":0.1,"s2":-0.3,"s3":-0.7,"wa":-0.48,"pca":-0.7,"cf":-0.53,"an":0},
{"t":802,"s1":2.8,"s2":1.6,"s3":4.3,"wa":0.87,"pca":1.8,"cf":1.35,"an":1},
{"t":807,"s1":1.5,"s2":0.3,"s3":2.1,"wa":1.44,"pca":3.7,"cf":2.78,"an":1},
{"t":812,"s1":3.9,"s2":2.7,"s3":6.5,"wa":0.6,"pca":0.9,"cf":0.68,"an":1},
{"t":817,"s1":0.7,"s2":1.1,"s3":3.6,"wa":1.08,"pca":2.5,"cf":1.88,"an":1},
{"t":822,"s1":2.6,"s2":-0.7,"s3":0.4,"wa":1.56,"pca":4.1,"cf":3.08,"an":1},
{"t":827,"s1":4.4,"s2":2.3,"s3":5.1,"wa":0.72,"pca":1.3,"cf":0.98,"an":1},
{"t":832,"s1":1.9,"s2":1.4,"s3":2.7,"wa":1.2,"pca":2.9,"cf":2.18,"an":1},
{"t":837,"s1":3.1,"s2":3.4,"s3":8.1,"wa":0.48,"pca":0.5,"cf":0.38,"an":1},
{"t":842,"s1":0.5,"s2":0.6,"s3":1.9,"wa":1.38,"pca":3.5,"cf":2.63,"an":1},
{"t":847,"s1":2.4,"s2":1.8,"s3":4.0,"wa":0.84,"pca":1.7,"cf":1.28,"an":1},
{"t":852,"s1":3.7,"s2":-0.4,"s3":6.2,"wa":1.05,"pca":2.4,"cf":1.8,"an":1},
{"t":857,"s1":1.2,"s2":2.5,"s3":1.1,"wa":1.71,"pca":4.6,"cf":3.45,"an":1},
{"t":862,"s1":4.9,"s2":1.0,"s3":3.8,"wa":0.63,"pca":1.0,"cf":0.75,"an":1},
{"t":867,"s1":2.0,"s2":3.1,"s3":5.4,"wa":1.23,"pca":3.0,"cf":2.25,"an":1},
{"t":872,"s1":1.4,"s2":1.7,"s3":2.5,"wa":0.9,"pca":1.9,"cf":1.43,"an":1},
{"t":877,"s1":3.3,"s2":0.1,"s3":0.2,"wa":0.36,"pca":0.1,"cf":0.08,"an":1},
{"t":882,"s1":0.2,"s2":2.9,"s3":6.9,"wa":1.47,"pca":3.8,"cf":2.85,"an":1},
{"t":887,"s1":2.9,"s2":1.2,"s3":3.1,"wa":0.99,"pca":2.2,"cf":1.65,"an":1},
{"t":892,"s1":4.1,"s2":-1.1,"s3":4.7,"wa":0.75,"pca":1.4,"cf":1.05,"an":1},
{"t":897,"s1":1.6,"s2":2.0,"s3":1.6,"wa":1.62,"pca":4.3,"cf":3.23,"an":1},
{"t":902,"s1":3.5,"s2":1.5,"s3":5.8,"wa":0.93,"pca":2.0,"cf":1.5,"an":1},
{"t":907,"s1":2.2,"s2":3.6,"s3":2.9,"wa":0.57,"pca":0.8,"cf":0.6,"an":1},
{"t":912,"s1":0.9,"s2":0.8,"s3":-1.2,"wa":1.29,"pca":3.2,"cf":2.4,"an":1},
{"t":917,"s1":5.5,"s2":2.2,"s3":4.4,"wa":0.81,"pca":1.6,"cf":1.2,"an":1},
{"t":922,"s1":1.8,"s2":-0.2,"s3":7.1,"wa":1.14,"pca":2.7,"cf":2.03,"an":1},
{"t":927,"s1":2.7,"s2":1.9,"s3":2.2,"wa":1.77,"pca":4.8,"cf":3.6,"an":1},
{"t":932,"s1":3.8,"s2":2.8,"s3":3.6,"wa":0.69,"pca":1.2,"cf":0.9,"an":1},
{"t":937,"s1":1.0,"s2":0.4,"s3":0.9,"wa":1.11,"pca":2.6,"cf":1.95,"an":1},
{"t":942,"s1":2.5,"s2":1.3,"s3":5.5,"wa":0.51,"pca":0.6,"cf":0.45,"an":1},
{"t":947,"s1":4.6,"s2":3.2,"s3":3.0,"wa":1.5,"pca":3.9,"cf":2.93,"an":1},
{"t":952,"s1":1.3,"s2":0.9,"s3":6.3,"wa":0.78,"pca":1.5,"cf":1.13,"an":1},
{"t":957,"s1":3.0,"s2":2.1,"s3":1.4,"wa":1.02,"pca":2.3,"cf":1.73,"an":1},
{"t":962,"s1":0.6,"s2":-0.9,"s3":4.9,"wa":1.53,"pca":4.0,"cf":3.0,"an":1},
{"t":967,"s1":2.8,"s2":1.6,"s3":-1.8,"wa":0.54,"pca":0.7,"cf":0.53,"an":1},
{"t":972,"s1":3.9,"s2":2.6,"s3":3.3,"wa":1.17,"pca":2.8,"cf":2.1,"an":1},
{"t":977,"s1":1.7,"s2":0.7,"s3":5.7,"wa":0.9,"pca":1.9,"cf":1.43,"an":1},
{"t":982,"s1":2.3,"s2":3.0,"s3":2.0,"wa":1.35,"pca":3.4,"cf":2.55,"an":1},
{"t":987,"s1":4.3,"s2":1.4,"s3":6.0,"wa":0.66,"pca":1.1,"cf":0.83,"an":1},
{"t":992,"s1":1.1,"s2":0.2,"s3":1.7,"wa":1.08,"pca":2.5,"cf":1.88,"an":1},
{"t":997,"s1":3.6,"s2":2.4,"s3":4.1,"wa":0.87,"pca":1.8,"cf":1.35,"an":1}
]},
"bounds": "flush",
"spacing": 55,
"resolve": {"scale": {"x": "independent", "y": "independent", "color": "independent"}, "legend": {"color": "independent"}},
"vconcat": [
{
 "width": 629, "height": 130,
 "title": "Raw Sensor Data",
 "data": {"name": "ts"},
 "layer": [
  {"mark": {"type": "line", "strokeWidth": 1.5, "opacity": 0.7},
   "encoding": {
    "x": {"field": "t", "type": "quantitative", "scale": {"domain": [-50, 1044], "nice": false, "zero": false}, "axis": {"values": [0,200,400,600,800,1000], "format": "d", "title": "Time"}},
    "y": {"field": "s1", "type": "quantitative", "title": "Value", "scale": {"domain": [-4.35, 11.5], "nice": false, "zero": false}, "axis": {"values": [0,5,10]}},
    "color": {"datum": "sensor1", "type": "nominal", "scale": {"domain": ["sensor1","sensor2","sensor3"], "range": ["#1f77b4","#ff7f0e","#2ca02c"]}, "legend": {"title": null}}
   }},
  {"mark": {"type": "line", "strokeWidth": 1.5, "opacity": 0.7},
   "encoding": {
    "x": {"field": "t", "type": "quantitative"},
    "y": {"field": "s2", "type": "quantitative", "title": "Value"},
    "color": {"datum": "sensor2", "type": "nominal"}
   }},
  {"mark": {"type": "line", "strokeWidth": 1.5, "opacity": 0.7},
   "encoding": {
    "x": {"field": "t", "type": "quantitative"},
    "y": {"field": "s3", "type": "quantitative", "title": "Value"},
    "color": {"datum": "sensor3", "type": "nominal"}
   }},
  {"mark": {"type": "rule", "color": "red", "strokeDash": [5, 2.5], "strokeWidth": 1, "opacity": 0.55},
   "encoding": {"x": {"datum": 800, "type": "quantitative"}}}
 ]
},
{
 "width": 629, "height": 130,
 "title": "Feature Fusion Comparison",
 "data": {"name": "ts"},
 "layer": [
  {"mark": {"type": "line", "strokeWidth": 1.5, "opacity": 0.8},
   "encoding": {
    "x": {"field": "t", "type": "quantitative", "scale": {"domain": [-50, 1044], "nice": false, "zero": false}, "axis": {"values": [0,200,400,600,800,1000], "format": "d", "title": "Time"}},
    "y": {"field": "wa", "type": "quantitative", "title": "Normalized Value", "scale": {"domain": [-2.78, 5.43], "nice": false, "zero": false}, "axis": {"values": [-2,0,2,4]}},
    "color": {"datum": "Weighted Average", "type": "nominal", "scale": {"domain": ["Weighted Average","PCA Feature"], "range": ["#1f77b4","#ff7f0e"]}, "legend": {"title": null}}
   }},
  {"mark": {"type": "line", "strokeWidth": 1.5, "opacity": 0.8},
   "encoding": {
    "x": {"field": "t", "type": "quantitative"},
    "y": {"field": "pca", "type": "quantitative", "title": "Normalized Value"},
    "color": {"datum": "PCA Feature", "type": "nominal"}
   }},
  {"mark": {"type": "rule", "color": "red", "strokeDash": [5, 2.5], "strokeWidth": 1, "opacity": 0.55},
   "encoding": {"x": {"datum": 800, "type": "quantitative"}}}
 ]
},
{
 "width": 629, "height": 130,
 "title": "Integrated Feature with Anomaly Detection",
 "data": {"name": "ts"},
 "layer": [
  {"mark": {"type": "line", "strokeWidth": 1.5},
   "encoding": {
    "x": {"field": "t", "type": "quantitative", "scale": {"domain": [-50, 1044], "nice": false, "zero": false}, "axis": {"values": [0,200,400,600,800,1000], "format": "d", "title": "Time"}},
    "y": {"field": "cf", "type": "quantitative", "title": "Feature Value", "scale": {"domain": [-2.03, 4.03], "nice": false, "zero": false}, "axis": {"values": [-2,0,2,4]}},
    "color": {"datum": "Combined Feature", "type": "nominal", "scale": {"domain": ["Combined Feature","Anomaly"], "range": ["purple","red"]},
      "legend": {"title": null, "encode": {"symbols": {"update": {
        "shape": {"signal": "datum.value === 'Anomaly' ? 'M1.5,0A0.5,0.5,0,1,1,0.5,0A0.5,0.5,0,1,1,1.5,0Z' : 'M-1,0H3'"},
        "fill": {"signal": "datum.value === 'Anomaly' ? 'red' : 'transparent'"},
        "stroke": {"signal": "datum.value === 'Anomaly' ? 'transparent' : 'purple'"},
        "opacity": {"value": 1}
      }}}}}
   }},
  {"transform": [{"filter": {"field": "an", "equal": 1}}],
   "mark": {"type": "circle", "size": 26, "opacity": 1},
   "encoding": {
    "x": {"field": "t", "type": "quantitative"},
    "y": {"field": "cf", "type": "quantitative", "title": "Feature Value"},
    "color": {"datum": "Anomaly", "type": "nominal"}
   }},
  {"mark": {"type": "rule", "color": "red", "strokeDash": [5, 2.5], "strokeWidth": 1, "opacity": 0.55},
   "encoding": {"x": {"datum": 800, "type": "quantitative"}}}
 ]
}
],
"config": {
 "font": "DejaVu Sans",
 "view": {"stroke": "#333333", "strokeWidth": 1},
 "axis": {"grid": false, "domain": false, "labelFontSize": 11, "titleFontSize": 11, "labelColor": "#222222", "titleColor": "#222222", "tickColor": "#333333", "tickSize": 3.5, "labelPadding": 3, "titleFontWeight": "normal", "labelFont": "DejaVu Sans", "titleFont": "DejaVu Sans", "labelFlush": false},
 "axisX": {"titlePadding": 3},
 "axisY": {"titlePadding": 6},
 "title": {"fontSize": 13, "fontWeight": "normal", "color": "#222222", "offset": 3, "font": "DejaVu Sans"},
 "legend": {"orient": "top-left", "offset": 5, "padding": 5, "symbolType": "M-1,0H3", "symbolSize": 144, "symbolStrokeWidth": 1.5, "labelOffset": 20, "rowPadding": 3, "strokeColor": "#cccccc", "fillColor": "white", "cornerRadius": 3, "labelFontSize": 11, "labelFont": "DejaVu Sans", "labelColor": "#222222"}
}
}
